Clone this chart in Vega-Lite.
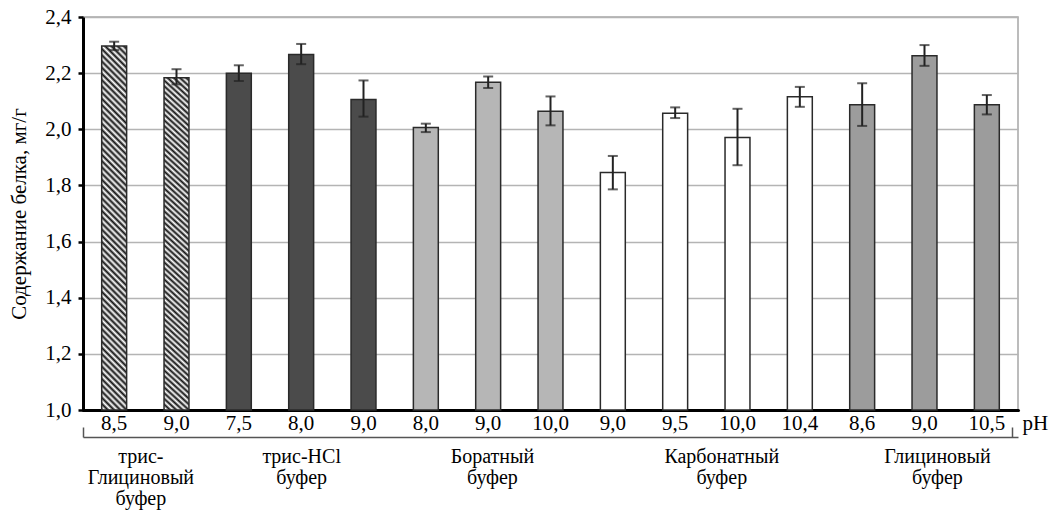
{
  "$schema": "https://vega.github.io/schema/vega-lite/v6.json",
  "width": 935,
  "height": 393,
  "autosize": {"type": "none"},
  "padding": {"left": 83, "top": 17, "right": 34, "bottom": 104},
  "background": "white",
  "view": {"stroke": "#a6a6a6", "strokeWidth": 1.5},
  "config": {
    "font": "Liberation Serif",
    "axis": {"labelFont": "Liberation Serif", "titleFont": "Liberation Serif", "labelColor": "black", "titleColor": "black", "labelFontSize": 21, "titleFontSize": 21, "titleFontWeight": "normal"}
  },
  "datasets": {
    "bars": [
      {"key": "01|8,5", "group": "трис-Глициновый", "value": 2.297, "lo": 2.282, "hi": 2.312},
      {"key": "02|9,0", "group": "трис-Глициновый", "value": 2.184, "lo": 2.160, "hi": 2.214},
      {"key": "03|7,5", "group": "трис-HCl", "value": 2.200, "lo": 2.172, "hi": 2.228},
      {"key": "04|8,0", "group": "трис-HCl", "value": 2.266, "lo": 2.232, "hi": 2.304},
      {"key": "05|9,0", "group": "трис-HCl", "value": 2.106, "lo": 2.045, "hi": 2.174},
      {"key": "06|8,0", "group": "Боратный", "value": 2.006, "lo": 1.990, "hi": 2.020},
      {"key": "07|9,0", "group": "Боратный", "value": 2.168, "lo": 2.147, "hi": 2.188},
      {"key": "08|10,0", "group": "Боратный", "value": 2.064, "lo": 2.014, "hi": 2.117},
      {"key": "09|9,0", "group": "Карбонатный", "value": 1.846, "lo": 1.786, "hi": 1.905},
      {"key": "10|9,5", "group": "Карбонатный", "value": 2.057, "lo": 2.040, "hi": 2.078},
      {"key": "11|10,0", "group": "Карбонатный", "value": 1.971, "lo": 1.872, "hi": 2.073},
      {"key": "12|10,4", "group": "Карбонатный", "value": 2.116, "lo": 2.080, "hi": 2.151},
      {"key": "13|8,6", "group": "Глициновый", "value": 2.087, "lo": 2.012, "hi": 2.164},
      {"key": "14|9,0", "group": "Глициновый", "value": 2.262, "lo": 2.226, "hi": 2.300},
      {"key": "15|10,5", "group": "Глициновый", "value": 2.087, "lo": 2.053, "hi": 2.122}
    ],
    "groups": [
      {"pos": 0}, {"pos": 0.92}, {"pos": 3.5}, {"pos": 6.56}, {"pos": 10.24}, {"pos": 13.7}, {"pos": 14.9}
    ]
  },
  "resolve": {"scale": {"x": "independent"}, "axis": {"x": "independent"}},
  "layer": [
    {
      "data": {"name": "bars"},
      "encoding": {
        "x": {
          "field": "key", "type": "nominal", "sort": null,
          "scale": {"paddingInner": 0.6, "paddingOuter": 0.3},
          "axis": {
            "orient": "bottom", "labelAngle": 0, "ticks": false, "grid": false,
            "domainColor": "black", "domainWidth": 3, "domainCap": "round",
            "labelPadding": 2, "labelExpr": "split(datum.label, '|')[1]",
            "title": "pH", "titleX": 939, "titleY": 2, "titleAlign": "left", "titleBaseline": "top"
          }
        }
      },
      "layer": [
        {
          "mark": {"type": "bar", "stroke": "#2a2a2a", "strokeWidth": 1.5},
          "encoding": {
            "y": {
              "field": "value", "type": "quantitative",
              "scale": {"domain": [1, 2.4], "nice": false, "zero": false},
              "axis": {
                "values": [1, 1.2, 1.4, 1.6, 1.8, 2, 2.2, 2.4],
                "labelExpr": "replace(format(datum.value, '.1f'), '.', ',')",
                "domainColor": "black", "domainWidth": 3,
                "tickColor": "black", "tickWidth": 2.5, "tickSize": 5,
                "labelPadding": 7,
                "grid": true, "gridColor": "#b4b4b4", "gridWidth": 1.5,
                "title": "Содержание белка, мг/г", "titlePadding": 15
              }
            },
            "y2": {"datum": 1},
            "fill": {
              "condition": {
                "test": "datum.group === 'трис-Глициновый'",
                "value": {
                  "gradient": "linear", "x1": 0, "y1": 1, "x2": 0.0731, "y2": -0.064,
                  "stops": [
                    {"offset": 0, "color": "#111"}, {"offset": 0.008, "color": "#fff"}, {"offset": 0.016, "color": "#111"}, {"offset": 0.024, "color": "#fff"}, {"offset": 0.032, "color": "#111"}, {"offset": 0.04, "color": "#fff"}, {"offset": 0.048, "color": "#111"}, {"offset": 0.056, "color": "#fff"}, {"offset": 0.064, "color": "#111"}, {"offset": 0.072, "color": "#fff"},
                    {"offset": 0.08, "color": "#111"}, {"offset": 0.088, "color": "#fff"}, {"offset": 0.096, "color": "#111"}, {"offset": 0.104, "color": "#fff"}, {"offset": 0.112, "color": "#111"}, {"offset": 0.12, "color": "#fff"}, {"offset": 0.128, "color": "#111"}, {"offset": 0.136, "color": "#fff"}, {"offset": 0.144, "color": "#111"}, {"offset": 0.152, "color": "#fff"},
                    {"offset": 0.16, "color": "#111"}, {"offset": 0.168, "color": "#fff"}, {"offset": 0.176, "color": "#111"}, {"offset": 0.184, "color": "#fff"}, {"offset": 0.192, "color": "#111"}, {"offset": 0.2, "color": "#fff"}, {"offset": 0.208, "color": "#111"}, {"offset": 0.216, "color": "#fff"}, {"offset": 0.224, "color": "#111"}, {"offset": 0.232, "color": "#fff"},
                    {"offset": 0.24, "color": "#111"}, {"offset": 0.248, "color": "#fff"}, {"offset": 0.256, "color": "#111"}, {"offset": 0.264, "color": "#fff"}, {"offset": 0.272, "color": "#111"}, {"offset": 0.28, "color": "#fff"}, {"offset": 0.288, "color": "#111"}, {"offset": 0.296, "color": "#fff"}, {"offset": 0.304, "color": "#111"}, {"offset": 0.312, "color": "#fff"},
                    {"offset": 0.32, "color": "#111"}, {"offset": 0.328, "color": "#fff"}, {"offset": 0.336, "color": "#111"}, {"offset": 0.344, "color": "#fff"}, {"offset": 0.352, "color": "#111"}, {"offset": 0.36, "color": "#fff"}, {"offset": 0.368, "color": "#111"}, {"offset": 0.376, "color": "#fff"}, {"offset": 0.384, "color": "#111"}, {"offset": 0.392, "color": "#fff"},
                    {"offset": 0.4, "color": "#111"}, {"offset": 0.408, "color": "#fff"}, {"offset": 0.416, "color": "#111"}, {"offset": 0.424, "color": "#fff"}, {"offset": 0.432, "color": "#111"}, {"offset": 0.44, "color": "#fff"}, {"offset": 0.448, "color": "#111"}, {"offset": 0.456, "color": "#fff"}, {"offset": 0.464, "color": "#111"}, {"offset": 0.472, "color": "#fff"},
                    {"offset": 0.48, "color": "#111"}, {"offset": 0.488, "color": "#fff"}, {"offset": 0.496, "color": "#111"}, {"offset": 0.504, "color": "#fff"}, {"offset": 0.512, "color": "#111"}, {"offset": 0.52, "color": "#fff"}, {"offset": 0.528, "color": "#111"}, {"offset": 0.536, "color": "#fff"}, {"offset": 0.544, "color": "#111"}, {"offset": 0.552, "color": "#fff"},
                    {"offset": 0.56, "color": "#111"}, {"offset": 0.568, "color": "#fff"}, {"offset": 0.576, "color": "#111"}, {"offset": 0.584, "color": "#fff"}, {"offset": 0.592, "color": "#111"}, {"offset": 0.6, "color": "#fff"}, {"offset": 0.608, "color": "#111"}, {"offset": 0.616, "color": "#fff"}, {"offset": 0.624, "color": "#111"}, {"offset": 0.632, "color": "#fff"},
                    {"offset": 0.64, "color": "#111"}, {"offset": 0.648, "color": "#fff"}, {"offset": 0.656, "color": "#111"}, {"offset": 0.664, "color": "#fff"}, {"offset": 0.672, "color": "#111"}, {"offset": 0.68, "color": "#fff"}, {"offset": 0.688, "color": "#111"}, {"offset": 0.696, "color": "#fff"}, {"offset": 0.704, "color": "#111"}, {"offset": 0.712, "color": "#fff"},
                    {"offset": 0.72, "color": "#111"}, {"offset": 0.728, "color": "#fff"}, {"offset": 0.736, "color": "#111"}, {"offset": 0.744, "color": "#fff"}, {"offset": 0.752, "color": "#111"}, {"offset": 0.76, "color": "#fff"}, {"offset": 0.768, "color": "#111"}, {"offset": 0.776, "color": "#fff"}, {"offset": 0.784, "color": "#111"}, {"offset": 0.792, "color": "#fff"},
                    {"offset": 0.8, "color": "#111"}, {"offset": 0.808, "color": "#fff"}, {"offset": 0.816, "color": "#111"}, {"offset": 0.824, "color": "#fff"}, {"offset": 0.832, "color": "#111"}, {"offset": 0.84, "color": "#fff"}, {"offset": 0.848, "color": "#111"}, {"offset": 0.856, "color": "#fff"}, {"offset": 0.864, "color": "#111"}, {"offset": 0.872, "color": "#fff"},
                    {"offset": 0.88, "color": "#111"}, {"offset": 0.888, "color": "#fff"}, {"offset": 0.896, "color": "#111"}, {"offset": 0.904, "color": "#fff"}, {"offset": 0.912, "color": "#111"}, {"offset": 0.92, "color": "#fff"}, {"offset": 0.928, "color": "#111"}, {"offset": 0.936, "color": "#fff"}, {"offset": 0.944, "color": "#111"}, {"offset": 0.952, "color": "#fff"},
                    {"offset": 0.96, "color": "#111"}, {"offset": 0.968, "color": "#fff"}, {"offset": 0.976, "color": "#111"}, {"offset": 0.984, "color": "#fff"}, {"offset": 0.992, "color": "#111"}, {"offset": 1, "color": "#fff"}
                  ]
                }
              },
              "field": "group", "type": "nominal",
              "scale": {
                "domain": ["трис-Глициновый", "трис-HCl", "Боратный", "Карбонатный", "Глициновый"],
                "range": ["#888888", "#4b4b4b", "#b6b6b6", "#ffffff", "#9c9c9c"]
              },
              "legend": null
            }
          }
        },
        {
          "mark": {"type": "rule", "color": "#222", "strokeWidth": 2},
          "encoding": {"y": {"field": "lo", "type": "quantitative"}, "y2": {"field": "hi"}}
        },
        {
          "mark": {"type": "tick", "color": "#222", "thickness": 2, "size": 10, "orient": "horizontal"},
          "encoding": {"y": {"field": "lo", "type": "quantitative"}}
        },
        {
          "mark": {"type": "tick", "color": "#222", "thickness": 2, "size": 10, "orient": "horizontal"},
          "encoding": {"y": {"field": "hi", "type": "quantitative"}}
        }
      ]
    },
    {
      "data": {"name": "groups"},
      "mark": {"type": "point", "opacity": 0},
      "encoding": {
        "x": {
          "field": "pos", "type": "quantitative",
          "scale": {"domain": [0, 15], "nice": false, "zero": false},
          "axis": {
            "orient": "bottom", "offset": 27, "grid": false, "title": null,
            "values": [0, 0.92, 3.5, 6.56, 10.24, 13.7, 14.9],
            "domainColor": "#555", "domainWidth": 1.5,
            "tickColor": "#555", "tickWidth": 1.5, "tickSize": -10,
            "tickOpacity": {"condition": {"test": "datum.value < 0.5 || datum.value > 14.5", "value": 1}, "value": 0},
            "labelFontSize": 20,
            "labelPadding": 19, "labelLineHeight": 21, "labelOverlap": false, "labelFlush": false, "labelBound": false,
            "labelExpr": "datum.value == 0.92 ? ['трис-', 'Глициновый', 'буфер'] : datum.value == 3.5 ? ['трис-HCl', 'буфер'] : datum.value == 6.56 ? ['Боратный', 'буфер'] : datum.value == 10.24 ? ['Карбонатный', 'буфер'] : datum.value == 13.7 ? ['Глициновый', 'буфер'] : ''"
          }
        }
      }
    }
  ]
}
